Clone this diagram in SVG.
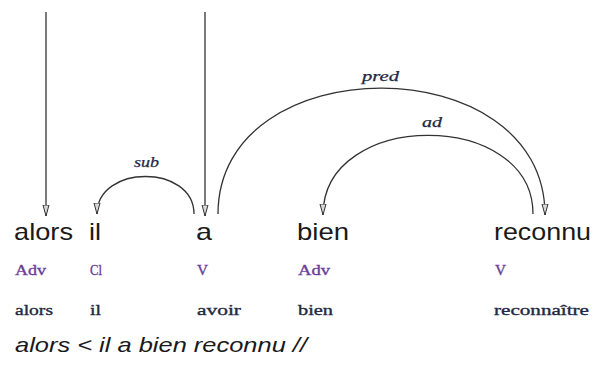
<svg xmlns="http://www.w3.org/2000/svg" width="593" height="372" viewBox="0 0 593 372">
<defs>
<style>
.w{font-family:"Liberation Sans",Arial,sans-serif;font-size:24px;fill:#1a1a1a}
.pos{font-family:"Liberation Serif","DejaVu Serif",serif;font-size:15px;fill:#6a3d9a;stroke:#6a3d9a;stroke-width:0.35}
.lem{font-family:"Liberation Serif","DejaVu Serif",serif;font-size:15px;fill:#1f2a44;stroke:#1f2a44;stroke-width:0.35}
.lbl{font-family:"Liberation Serif","DejaVu Serif",serif;font-size:14px;font-style:italic;fill:#1f2a44;stroke:#1f2a44;stroke-width:0.25}
.sent{font-family:"Liberation Sans",Arial,sans-serif;font-size:21px;font-style:italic;fill:#1a1a1a}
.c{fill:none;stroke:#333;stroke-width:1.3}
</style>
<marker id="ah" markerUnits="userSpaceOnUse" markerWidth="12" markerHeight="8" refX="11" refY="3.5" orient="auto">
<path d="M0,0.5 L11,3.5 L0,6.5 Z" fill="#d8d8d8" stroke="#333" stroke-width="1"/>
</marker>
</defs>
<g id="connectors">
<line class="c" x1="46" y1="12" x2="46" y2="216" marker-end="url(#ah)"/>
<line class="c" x1="205" y1="12" x2="205" y2="216" marker-end="url(#ah)"/>
<path id="e-sub" class="c" d="M194,214 C194,164 97,164 97,214" marker-end="url(#ah)"/>
<path id="e-pred" class="c" d="M218,214 C218,46 545,46 545,215" marker-end="url(#ah)"/>
<path id="e-ad" class="c" d="M533,214 C533,109 323,109 323,215" marker-end="url(#ah)"/>
<text class="lbl" x="134" y="167" textLength="25" lengthAdjust="spacingAndGlyphs">sub</text>
<text class="lbl" x="362" y="81" textLength="37" lengthAdjust="spacingAndGlyphs">pred</text>
<text class="lbl" x="422" y="127" textLength="20" lengthAdjust="spacingAndGlyphs">ad</text>
</g>
<g id="n-alors">
<text class="w" x="14" y="240" textLength="59" lengthAdjust="spacingAndGlyphs">alors</text>
<text class="pos" x="15" y="275" textLength="31" lengthAdjust="spacingAndGlyphs">Adv</text>
<text class="lem" x="15" y="315" textLength="38" lengthAdjust="spacingAndGlyphs">alors</text>
</g>
<g id="n-il">
<text class="w" x="89" y="240" textLength="12" lengthAdjust="spacingAndGlyphs">il</text>
<text class="pos" x="90" y="275" textLength="12" lengthAdjust="spacingAndGlyphs">Cl</text>
<text class="lem" x="90" y="315" textLength="11" lengthAdjust="spacingAndGlyphs">il</text>
</g>
<g id="n-a">
<text class="w" x="196" y="240" textLength="16" lengthAdjust="spacingAndGlyphs">a</text>
<text class="pos" x="197" y="275" textLength="11" lengthAdjust="spacingAndGlyphs">V</text>
<text class="lem" x="197" y="315" textLength="44" lengthAdjust="spacingAndGlyphs">avoir</text>
</g>
<g id="n-bien">
<text class="w" x="297" y="240" textLength="52" lengthAdjust="spacingAndGlyphs">bien</text>
<text class="pos" x="298" y="275" textLength="32" lengthAdjust="spacingAndGlyphs">Adv</text>
<text class="lem" x="298" y="315" textLength="35" lengthAdjust="spacingAndGlyphs">bien</text>
</g>
<g id="n-reconnu">
<text class="w" x="494" y="240" textLength="97" lengthAdjust="spacingAndGlyphs">reconnu</text>
<text class="pos" x="495" y="275" textLength="11" lengthAdjust="spacingAndGlyphs">V</text>
<text class="lem" x="494" y="315" textLength="95" lengthAdjust="spacingAndGlyphs">reconnaître</text>
</g>
<g id="sentence">
<text class="sent" x="15" y="352" textLength="292" lengthAdjust="spacingAndGlyphs">alors &lt; il a bien reconnu //</text>
</g>
</svg>
